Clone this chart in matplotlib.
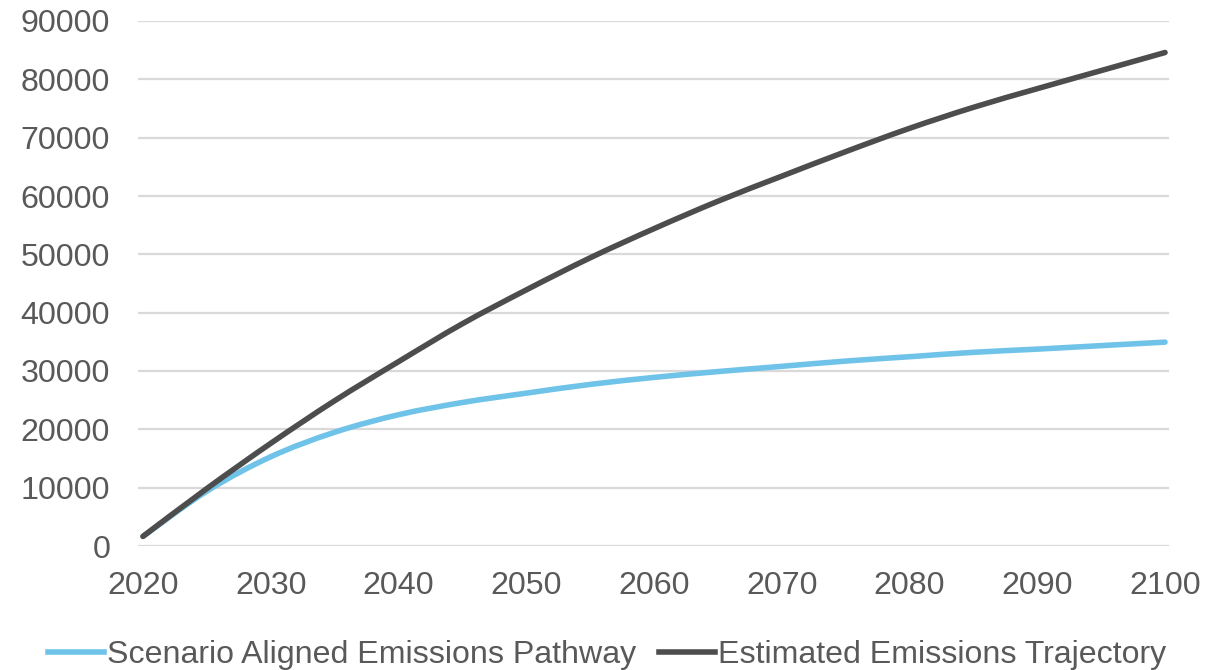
import matplotlib
matplotlib.use("Agg")
import matplotlib.pyplot as plt
from matplotlib.path import Path
from matplotlib.patches import PathPatch
from matplotlib.lines import Line2D

plt.rcParams['font.family'] = ['Liberation Sans', 'DejaVu Sans']

# Cumulative emissions, every 5 years
years = [2020, 2025, 2030, 2035, 2040, 2045, 2050, 2055, 2060,
         2065, 2070, 2075, 2080, 2085, 2090, 2095, 2100]
aligned_pathway = [1650, 9400, 15300, 19500, 22500, 24600, 26200, 27700, 28900,
                   29900, 30800, 31700, 32450, 33200, 33750, 34350, 34950]
estimated_trajectory = [1650, 9850, 17600, 24900, 31600, 38100, 43900, 49400, 54400,
                        59100, 63400, 67600, 71600, 75200, 78400, 81500, 84600]

series_labels = ['Scenario Aligned Emissions Pathway', 'Estimated Emissions Trajectory']
series_colors = ['#70c3e8', '#4d4d4d']

text_col = '#595959'
fs = 23.1
lw = 4.0


def smooth_path(xs, ys):
    # Catmull-Rom style bezier through the points (like a spreadsheet "smoothed line")
    verts = [(xs[0], ys[0])]
    codes = [Path.MOVETO]
    n = len(xs)
    for i in range(n - 1):
        x0, y0 = (xs[i - 1], ys[i - 1]) if i > 0 else (xs[i], ys[i])
        x1, y1 = xs[i], ys[i]
        x2, y2 = xs[i + 1], ys[i + 1]
        x3, y3 = (xs[i + 2], ys[i + 2]) if i + 2 < n else (x2, y2)
        verts += [(x1 + (x2 - x0) / 6, y1 + (y2 - y0) / 6),
                  (x2 - (x3 - x1) / 6, y2 - (y3 - y1) / 6),
                  (x2, y2)]
        codes += [Path.CURVE4] * 3
    return Path(verts, codes)


fig = plt.figure(figsize=(12.14, 6.70), dpi=100)
ax = fig.add_axes([138 / 1214, 1 - 546 / 670, (1169 - 138) / 1214, (546 - 21) / 670])

for vals, col, z in [(aligned_pathway, series_colors[0], 3),
                     (estimated_trajectory, series_colors[1], 4)]:
    ax.add_patch(PathPatch(smooth_path(years, vals), fill=False, edgecolor=col, lw=lw,
                           capstyle='round', joinstyle='round', zorder=z))

ax.set_xlim(2019.61, 2100.31)
ax.set_ylim(0, 90000)
ax.set_xticks(range(2020, 2101, 10))
ax.set_yticks(range(0, 90001, 10000))

ax.grid(axis='y', color='#d9d9d9', lw=1.6)
ax.set_axisbelow(True)
for s in ax.spines.values():
    s.set_visible(False)
ax.tick_params(length=0, labelsize=fs, labelcolor=text_col)
ax.tick_params(axis='y', pad=20)
ax.tick_params(axis='x', pad=18)

handles = [Line2D([], [], color=c, lw=lw) for c in series_colors]
fig.legend(handles, series_labels, loc='center', bbox_to_anchor=(0.5, 15 / 670), ncol=2,
           frameon=False, fontsize=fs, labelcolor=text_col, handlelength=1.75,
           handletextpad=0.1, columnspacing=0.7, borderpad=0)

fig.savefig('out.png', dpi=100)
